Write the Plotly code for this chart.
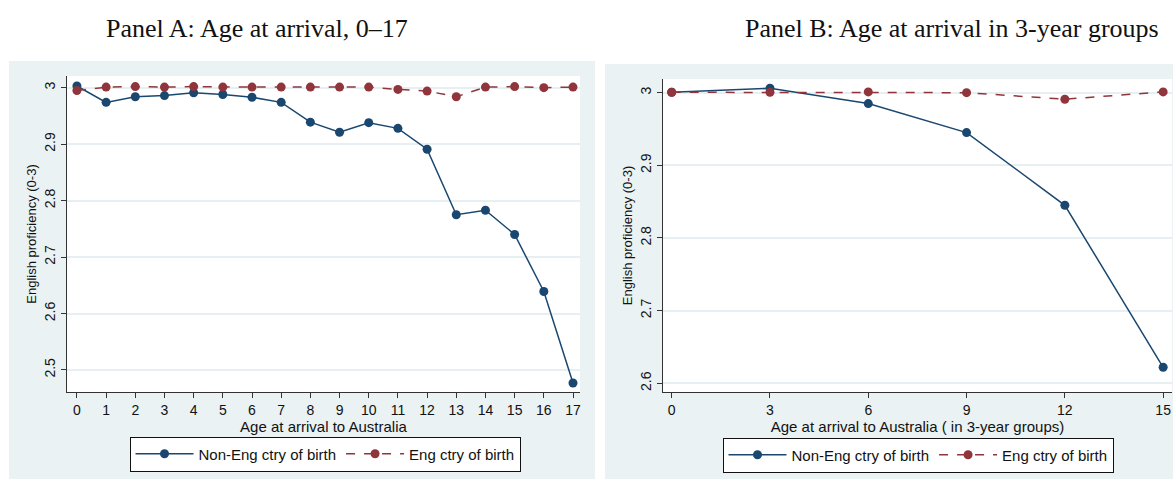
import plotly.graph_objects as go

# ---- data ----
age_a = list(range(0, 18))
non_eng_a = [3.003, 2.974, 2.984, 2.986, 2.991, 2.988, 2.983, 2.974, 2.939, 2.921,
             2.938, 2.928, 2.891, 2.775, 2.783, 2.740, 2.639, 2.477]
eng_a = [2.995, 3.001, 3.002, 3.001, 3.002, 3.001, 3.001, 3.001, 3.001, 3.001,
         3.001, 2.997, 2.994, 2.984, 3.001, 3.002, 3.000, 3.001]

age_b = [0, 3, 6, 9, 12, 15]
non_eng_b = [3.0005, 3.006, 2.985, 2.945, 2.845, 2.622]
eng_b = [3.0005, 3.0005, 3.001, 3.000, 2.991, 3.001]

ticks_a_y = [2.5, 2.6, 2.7, 2.8, 2.9, 3.0]
ticks_b_y = [2.6, 2.7, 2.8, 2.9, 3.0]
tick_text_a_y = ["2.5", "2.6", "2.7", "2.8", "2.9", "3"]
tick_text_b_y = ["2.6", "2.7", "2.8", "2.9", "3"]

NAVY = "#1a476f"
MAROON = "#90353b"
BG = "#eaf2f3"
GRID = "#e6eff1"
FONT = "Liberation Sans, Arial, sans-serif"
SERIF = "Liberation Serif, Times New Roman, serif"

W, H = 1173, 480

def px_x(v):
    return v / W

def px_y(v):
    return 1 - v / H

fig = go.Figure()

fig.add_trace(go.Scatter(x=age_a, y=non_eng_a, mode="lines+markers", name="Non-Eng ctry of birth",
                         line=dict(color=NAVY, width=1.5), marker=dict(color=NAVY, size=9),
                         xaxis="x", yaxis="y", legend="legend"))
fig.add_trace(go.Scatter(x=age_a, y=eng_a, mode="lines+markers", name="Eng ctry of birth",
                         line=dict(color=MAROON, width=1.5, dash="dash"), marker=dict(color=MAROON, size=9),
                         xaxis="x", yaxis="y", legend="legend"))
fig.add_trace(go.Scatter(x=age_b, y=non_eng_b, mode="lines+markers", name="Non-Eng ctry of birth",
                         line=dict(color=NAVY, width=1.5), marker=dict(color=NAVY, size=9),
                         xaxis="x2", yaxis="y2", legend="legend2"))
fig.add_trace(go.Scatter(x=age_b, y=eng_b, mode="lines+markers", name="Eng ctry of birth",
                         line=dict(color=MAROON, width=1.5, dash="dash"), marker=dict(color=MAROON, size=9),
                         xaxis="x2", yaxis="y2", legend="legend2"))

axis_common = dict(showline=True, linecolor="#333333", linewidth=1, mirror=False,
                   ticks="outside", ticklen=5, tickcolor="#333333", tickwidth=1,
                   tickfont=dict(family=FONT, size=14, color="#111111"),
                   zeroline=False)

fig.update_layout(
    xaxis=dict(domain=[px_x(67), px_x(580)], range=[-0.34, 17.24], tickmode="array",
               tickvals=age_a, showgrid=False, anchor="y",
               title=dict(text="Age at arrival to Australia", standoff=0,
                          font=dict(family=FONT, size=15, color="#111111")),
               **axis_common),
    yaxis=dict(domain=[px_y(392), px_y(76)], range=[2.461, 3.0207], tickmode="array",
               tickvals=ticks_a_y, ticktext=tick_text_a_y, tickangle=-90,
               showgrid=True, gridcolor=GRID, gridwidth=1.5, anchor="x",
               title=dict(text="English proficiency (0-3)", standoff=2,
                          font=dict(family=FONT, size=13, color="#111111")),
               **axis_common),
    xaxis2=dict(domain=[px_x(663), px_x(1172)], range=[-0.265, 15.27], tickmode="array",
                tickvals=age_b, showgrid=False, anchor="y2",
                title=dict(text="Age at arrival to Australia ( in 3-year groups)", standoff=0,
                           font=dict(family=FONT, size=15, color="#111111")),
                **axis_common),
    yaxis2=dict(domain=[px_y(392), px_y(79)], range=[2.588, 3.0188], tickmode="array",
                tickvals=ticks_b_y, ticktext=tick_text_b_y, tickangle=-90,
                showgrid=True, gridcolor=GRID, gridwidth=1.5, anchor="x2",
                title=dict(text="English proficiency (0-3)", standoff=2,
                           font=dict(family=FONT, size=13, color="#111111")),
                **axis_common),
)

legend_common = dict(orientation="h", bgcolor="white", bordercolor="#111111", borderwidth=1,
                     font=dict(family=FONT, size=15, color="#111111"),
                     xanchor="center", yanchor="middle", itemwidth=58,
                     itemclick=False, itemdoubleclick=False, tracegroupgap=0)

fig.update_layout(
    width=W, height=H,
    margin=dict(l=0, r=0, t=0, b=0),
    paper_bgcolor="white", plot_bgcolor="white",
    showlegend=True,
    legend=dict(x=px_x(325), y=px_y(454), **legend_common),
    legend2=dict(x=px_x(918), y=px_y(455), **legend_common),
    shapes=[
        dict(type="rect", xref="paper", yref="paper", x0=px_x(9), x1=px_x(595), y0=px_y(479), y1=px_y(61),
             fillcolor=BG, line=dict(width=0), layer="below"),
        dict(type="rect", xref="paper", yref="paper", x0=px_x(605), x1=px_x(1173), y0=px_y(479), y1=px_y(64),
             fillcolor=BG, line=dict(width=0), layer="below"),
        dict(type="rect", xref="paper", yref="paper", x0=px_x(67), x1=px_x(580), y0=px_y(392), y1=px_y(76),
             fillcolor="white", line=dict(width=0), layer="below"),
        dict(type="rect", xref="paper", yref="paper", x0=px_x(663), x1=px_x(1172), y0=px_y(392), y1=px_y(79),
             fillcolor="white", line=dict(width=0), layer="below"),
    ],
    annotations=[
        dict(text="Panel A: Age at arrival, 0\u201317", xref="paper", yref="paper",
             x=px_x(257), y=px_y(28), xanchor="center", yanchor="middle", showarrow=False,
             font=dict(family=SERIF, size=26, color="#111111")),
        dict(text="Panel B: Age at arrival in 3-year groups", xref="paper", yref="paper",
             x=px_x(952), y=px_y(28), xanchor="center", yanchor="middle", showarrow=False,
             font=dict(family=SERIF, size=26, color="#111111")),
    ],
)

fig.write_html("out.html")
